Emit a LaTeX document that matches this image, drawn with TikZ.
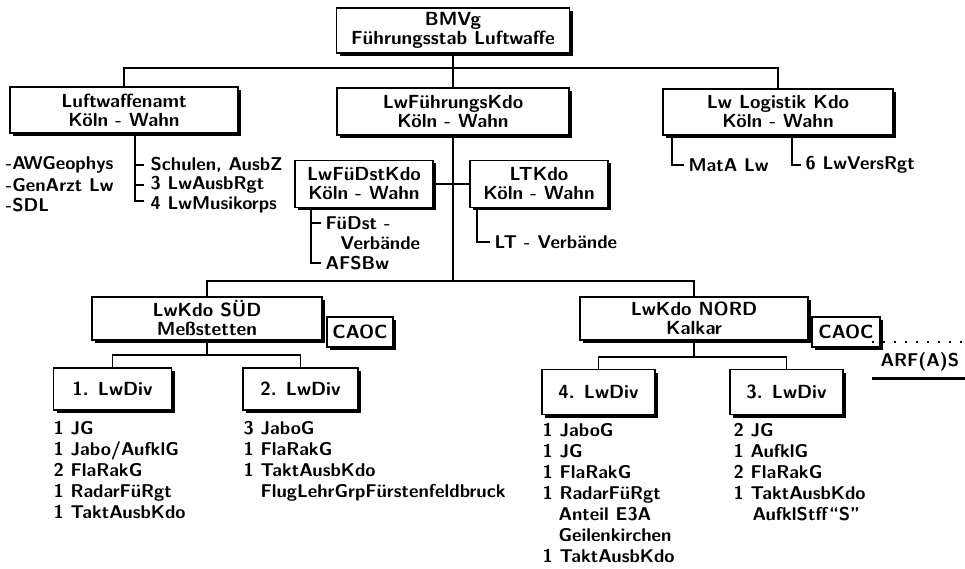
\documentclass[tikz,border=0pt]{standalone}
\usetikzlibrary{shadows,calc}
\begin{document}
\begin{tikzpicture}[x=1pt,y=-1pt,
  font=\fontsize{19}{19}\selectfont\sffamily\bfseries,
  line width=1.1pt,
  box/.style={draw, fill=white, align=center, inner sep=0pt,
    drop shadow={shadow xshift=3pt, shadow yshift=-3pt, fill=black, opacity=1}},
  item/.style={anchor=west, inner sep=0pt, font=\fontsize{18.5}{19}\selectfont\sffamily\bfseries},
  lst/.style={anchor=north west, align=left, inner sep=0pt,
    font=\fontsize{18.5}{21}\selectfont\sffamily\bfseries},
  conn/.style={line width=1.1pt}]
\path[use as bounding box] (0,0) rectangle (965,569);
\clip (0,0) rectangle (965,569);

% level 0 and 1
\node[box, minimum width=233, minimum height=45] (bmvg) at (453,30.5) {BMVg\\Führungsstab Luftwaffe};
\node[box, minimum width=228, minimum height=46] (lwa) at (124,110) {Luftwaffenamt\\Köln - Wahn};
\node[box, minimum width=232, minimum height=47] (lwfk) at (453,111.5) {LwFührungsKdo\\Köln - Wahn};
\node[box, minimum width=230, minimum height=46] (lwlog) at (778,112) {Lw Logistik Kdo\\Köln - Wahn};
\coordinate (hub1) at (453,68);
\draw[conn] (bmvg.south) -- (lwfk.north);
\draw[conn] (lwa.north) |- (hub1) -| (lwlog.north);

% Luftwaffenamt items
\node[item] (awg) at (5,165) {-AWGeophys};
\node[item] (gen) at (5,185) {-GenArzt Lw};
\node[item] (sdl) at (5,205) {-SDL};
\node[item] (schul) at (150,165) {Schulen, AusbZ};
\node[item] (ausb) at (150,185) {3 LwAusbRgt};
\node[item] (musik) at (150,205) {4 LwMusikorps};
\coordinate (lwatr) at ($(lwa.south)+(11,0)$);
\draw[conn] (lwatr) |- ($(musik.west)+(-6,-4)$);
\draw[conn] (lwatr |- schul.west) -- ($(schul.west)+(-6,0)$);
\draw[conn] (lwatr |- ausb.west) -- ($(ausb.west)+(-6,0)$);

% Logistik items
\node[item] (mata) at (688,165) {MatA Lw};
\node[item] (vers) at (805,165) {6 LwVersRgt};
\draw[conn] ($(lwlog.south)+(-106,0)$) |- ($(mata.west)+(-4,0)$);
\draw[conn] ($(lwlog.south)+(14,0)$) |- ($(vers.west)+(-4,0)$);

% level 2
\node[box, minimum width=138, minimum height=47] (fudst) at (364,184) {LwFüDstKdo\\Köln - Wahn};
\node[box, minimum width=138, minimum height=47] (ltkdo) at (539,184) {LTKdo\\Köln - Wahn};
\draw[conn] (fudst.east) -- (ltkdo.west);

\node[item] (fuv) at (325,223) {FüDst -};
\node[item] (fuv2) at (340,243) {Verbände};
\node[item] (afs) at (325,263) {AFSBw};
\coordinate (futr) at ($(fudst.south)+(-53,0)$);
\draw[conn] (futr) |- ($(afs.west)+(-4,0)$);
\draw[conn] (futr |- fuv.west) -- ($(fuv.west)+(-4,0)$);

\node[item] (ltv) at (494,242) {LT - Verbände};
\draw[conn] ($(ltkdo.south)+(-62,0)$) |- ($(ltv.west)+(-4,0)$);

% level 3
\node[box, minimum width=230, minimum height=43] (sued) at (207,318.5) {LwKdo SÜD\\Meßstetten};
\node[box, minimum width=66, minimum height=30] (caoc1) at (360,332) {CAOC};
\node[box, minimum width=228, minimum height=43] (nord) at (694,318.5) {LwKdo NORD\\Kalkar};
\node[box, minimum width=68, minimum height=30] (caoc2) at (846,332) {CAOC};
\coordinate (hub2) at (453,281);
\draw[conn] (lwfk.south) -- (hub2);
\draw[conn] (sued.north) |- (hub2) -| (nord.north);

% ARF box (cut at the right edge)
\node[minimum width=120, minimum height=35, anchor=north west, inner sep=0pt] (arfbox) at (872,342) {};
\draw[dash pattern=on 2pt off 9pt] (arfbox.north west) -- (arfbox.north east);
\draw[line width=3pt] (arfbox.south west) -- (arfbox.south east);
\node[item] (arf) at (880,362) {ARF(A)S};

% level 4
\node[box, minimum width=118, minimum height=42] (div1) at (112.5,389) {1. LwDiv};
\node[box, minimum width=115, minimum height=42] (div2) at (300.5,389) {2. LwDiv};
\node[box, minimum width=113, minimum height=45] (div4) at (598.5,392) {4. LwDiv};
\node[box, minimum width=113, minimum height=45] (div3) at (786.5,392) {3. LwDiv};
\coordinate (hub3) at (207,355);
\coordinate (hub4) at (694,357);
\draw[conn] (sued.south) -- (hub3);
\draw[conn] (div1.north) |- (hub3) -| (div2.north);
\draw[conn] (nord.south) -- (hub4);
\draw[conn] (div4.north) |- (hub4) -| (div3.north);

% lists
\node[lst] (l1) at (53,421) {1 JG\\1 Jabo/AufklG\\2 FlaRakG\\1 RadarFüRgt\\1 TaktAusbKdo};
\node[lst] (l2) at (243,421) {3 JaboG\\1 FlaRakG\\1 TaktAusbKdo\\\hspace*{17pt}FlugLehrGrpFürstenfeldbruck};
\node[lst] (l4) at (542,423) {1 JaboG\\1 JG\\1 FlaRakG\\1 RadarFüRgt\\\hspace*{16pt}Anteil E3A\\\hspace*{16pt}Geilenkirchen\\1 TaktAusbKdo};
\node[lst] (l3) at (733,423) {2 JG\\1 AufklG\\2 FlaRakG\\1 TaktAusbKdo\\\hspace*{19pt}AufklStff“S”};
\end{tikzpicture}
\end{document}
